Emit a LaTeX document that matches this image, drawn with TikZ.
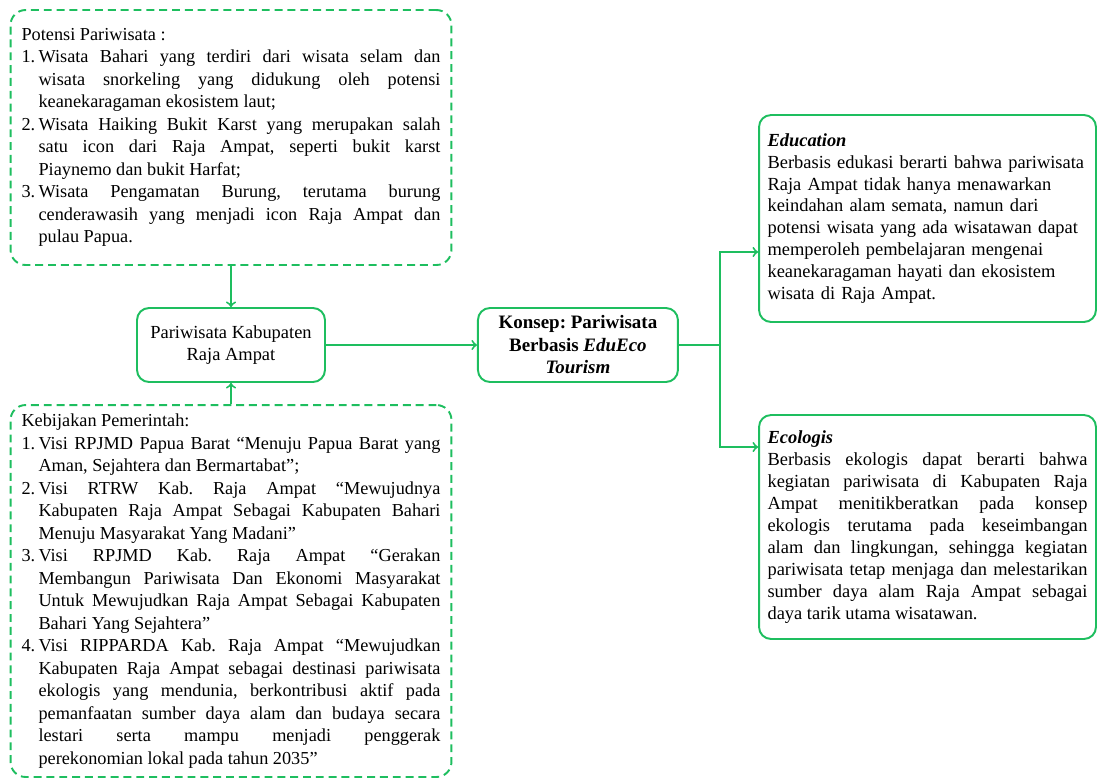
\documentclass[tikz,border=0pt]{standalone}
\usepackage{fontspec}
\setmainfont{Liberation Serif}
\usetikzlibrary{shapes,arrows}
\definecolor{leafgreen}{RGB}{30,190,95}
\setlength{\parindent}{0pt}
\frenchspacing
\hbadness=10000
\newcommand{\listitem}[2]{\par\noindent\hangindent=0.34cm\hangafter=1\makebox[0.34cm][l]{#1}#2\par}
\tikzstyle{infobox} = [rectangle, draw=leafgreen, line width=1.1pt,
    dash pattern=on 4.5pt off 2.8pt, rounded corners=0.3cm, align=justify,
    text width=8.38cm, minimum width=8.82cm, inner xsep=0.22cm,
    font=\fontsize{10.4}{12.8}\selectfont]
\tikzstyle{notebox} = [rectangle, draw=leafgreen, line width=1.1pt,
    rounded corners=0.24cm, text width=6.4cm, minimum width=6.74cm,
    inner xsep=0.17cm, font=\fontsize{10.5}{12.5}\selectfont]
\tikzstyle{block} = [rectangle, draw=leafgreen, line width=1.1pt,
    rounded corners=0.24cm, align=center, minimum height=1.48cm,
    font=\fontsize{10.5}{12.8}\selectfont]
\tikzstyle{line} = [draw=leafgreen, line width=1.1pt, -to]

\begin{document}
\begin{tikzpicture}[x=0.02cm, y=-0.02cm, node distance=6.94cm]
  \useasboundingbox (0,0) rectangle (1098,778);
  \node [infobox, minimum height=5.1cm] (potensi) at (231,137.5) {%
    Potensi Pariwisata :
    \listitem{1.}{Wisata Bahari yang terdiri dari wisata selam dan\linebreak
      wisata snorkeling yang didukung oleh potensi\linebreak
      keanekaragaman ekosistem laut;}
    \listitem{2.}{Wisata Haiking Bukit Karst yang merupakan salah\linebreak
      satu icon dari Raja Ampat, seperti bukit karst\linebreak
      Piaynemo dan bukit Harfat;}
    \listitem{3.}{Wisata Pengamatan Burung, terutama burung\linebreak
      cenderawasih yang menjadi icon Raja Ampat dan\linebreak
      pulau Papua.}};
  \node [block, minimum width=3.76cm] (pariwisata) at (231,345) {Pariwisata Kabupaten\\Raja Ampat};
  \path [line] (potensi) -- (pariwisata);
  \node [infobox, minimum height=7.44cm] (kebijakan) at (231,591) {%
    Kebijakan Pemerintah:
    \listitem{1.}{Visi RPJMD Papua Barat “Menuju Papua Barat yang\linebreak
      Aman, Sejahtera dan Bermartabat”;}
    \listitem{2.}{Visi RTRW Kab. Raja Ampat “Mewujudnya\linebreak
      Kabupaten Raja Ampat Sebagai Kabupaten Bahari\linebreak
      Menuju Masyarakat Yang Madani”}
    \listitem{3.}{Visi RPJMD Kab. Raja Ampat “Gerakan\linebreak
      Membangun Pariwisata Dan Ekonomi Masyarakat\linebreak
      Untuk Mewujudkan Raja Ampat Sebagai Kabupaten\linebreak
      Bahari Yang Sejahtera”}
    \listitem{4.}{Visi RIPPARDA Kab. Raja Ampat “Mewujudkan\linebreak
      Kabupaten Raja Ampat sebagai destinasi pariwisata\linebreak
      ekologis yang mendunia, berkontribusi aktif pada\linebreak
      pemanfaatan sumber daya alam dan budaya secara\linebreak
      lestari serta mampu menjadi penggerak\linebreak
      perekonomian lokal pada tahun 2035”}};
  \path [line] (kebijakan) -- (pariwisata);
  \node [block, right of=pariwisata, minimum width=4cm, font=\fontsize{10.8}{12.8}\selectfont\bfseries] (konsep)
    {Konsep: Pariwisata\\Berbasis \textit{EduEco}\\\textit{Tourism}};
  \path [line] (pariwisata) -- (konsep);
  \node [notebox, align=left, minimum height=4.14cm] (education) at (927.5,218.5) {%
    \textbf{\textit{Education}}\\
    Berbasis edukasi berarti bahwa pariwisata\\
    Raja Ampat tidak hanya menawarkan\\
    keindahan alam semata, namun dari\\
    potensi wisata yang ada wisatawan dapat\\
    memperoleh pembelajaran mengenai\\
    keanekaragaman hayati dan ekosistem\\
    wisata di Raja Ampat.};
  \node [notebox, align=justify, minimum height=4.48cm] (ecologis) at (927.5,527) {%
    \textbf{\textit{Ecologis}}\par
    Berbasis ekologis dapat berarti bahwa\linebreak
    kegiatan pariwisata di Kabupaten Raja\linebreak
    Ampat menitikberatkan pada konsep\linebreak
    ekologis terutama pada keseimbangan\linebreak
    alam dan lingkungan, sehingga kegiatan\linebreak
    pariwisata tetap menjaga dan melestarikan\linebreak
    sumber daya alam Raja Ampat sebagai\linebreak
    daya tarik utama wisatawan.};
  \path [draw=leafgreen, line width=1.1pt] (konsep.east) -- ++(41,0) coordinate (branch);
  \path [line] (branch) |- ([yshift=-0.67cm]education.west);
  \path [line] (branch) |- ([yshift=1.6cm]ecologis.west);
\end{tikzpicture}
\end{document}
